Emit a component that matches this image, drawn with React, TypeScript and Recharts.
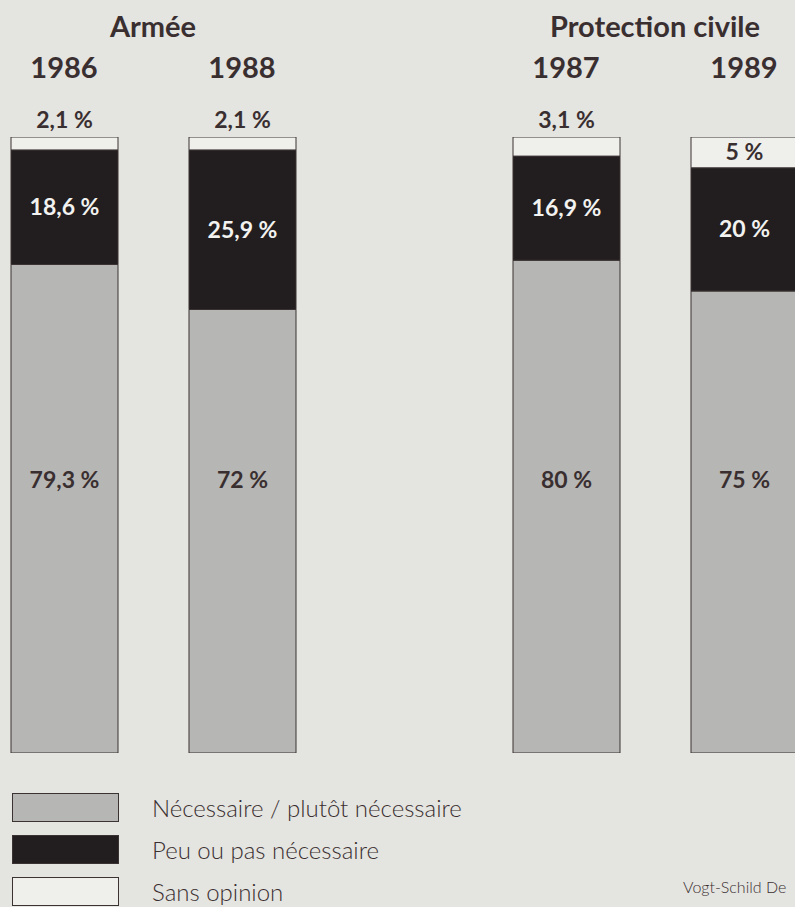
import { Bar, BarChart, LabelList, Legend, XAxis, YAxis } from "recharts";

const armyYears: string[] = ["1986", "1988"];
const civilYears: string[] = ["1987", "1989"];
// Armée 1986, 1988 then Protection civile 1987, 1989
const necessary: number[] = [79.3, 72, 80, 75];
const notNecessary: number[] = [18.6, 25.9, 16.9, 20];
const noOpinion: number[] = [2.1, 2.1, 3.1, 5];
const seriesNames: string[] = [
  "Nécessaire / plutôt nécessaire",
  "Peu ou pas nécessaire",
  "Sans opinion",
];

const BG = "#e4e4e0";
const GREY = "#b6b6b4";
const BLACK = "#221e1f";
const WHITE = "#efefec";
const INK = "#3a2f30";
const EDGE = "#3a3233";
const FONT = "Lato, 'Open Sans', sans-serif";

const buildRows = (years: string[], start: number) =>
  years.map((year, i) => ({
    year,
    necessary: necessary[start + i],
    notNecessary: notNecessary[start + i],
    noOpinion: noOpinion[start + i],
  }));

const fmt = (v: number) => `${String(v).replace(".", ",")} %`;

const YearTick = (p: any) => (
  <text x={p.x} y={78} textAnchor="middle" fontFamily={FONT} fontWeight={700} fontSize={29} fill={INK}>
    {p.payload.value}
  </text>
);

const GreyLabel = (p: any) => (
  <text x={p.x + p.width / 2} y={p.y + p.height - 265} textAnchor="middle" fontFamily={FONT} fontWeight={700} fontSize={23} fill={INK}>
    {fmt(p.value)}
  </text>
);

const BlackLabel = (p: any) => (
  <text x={p.x + p.width / 2} y={p.y + p.height / 2 + 8} textAnchor="middle" fontFamily={FONT} fontWeight={700} fontSize={23} fill="#f2f2f0">
    {fmt(p.value)}
  </text>
);

const WhiteLabel = (p: any) => {
  // small segments get their label above the bar
  const inside = p.height > 25;
  return (
    <text
      x={p.x + p.width / 2}
      y={inside ? p.y + p.height / 2 + 8 : p.y - 9}
      textAnchor="middle"
      fontFamily={FONT}
      fontWeight={700}
      fontSize={23}
      fill={INK}
    >
      {fmt(p.value)}
    </text>
  );
};

const legendFills = [GREY, BLACK, WHITE];

const renderLegend = (props: any) => {
  const items = props.payload || [];
  return (
    <svg width={520} height={120} style={{ display: "block", overflow: "visible" }}>
      {items.map((item: any, i: number) => (
        <g key={`leg-${i}`}>
          <rect x={0.5} y={i * 42 + 0.5} width={106} height={28} fill={item.color || legendFills[i]} stroke={EDGE} />
          <text x={140} y={i * 42 + 24} fontFamily={FONT} fontWeight={300} fontSize={24} fill={INK}>
            {item.value}
          </text>
        </g>
      ))}
    </svg>
  );
};

const Group = ({ years, start, title, withLegend }: { years: string[]; start: number; title: string; withLegend?: boolean }) => (
  <BarChart
    width={356}
    height={907}
    data={buildRows(years, start)}
    margin={{ top: 107, right: 0, bottom: 154, left: 0 }}
  >
    <XAxis
      dataKey="year"
      orientation="top"
      height={30}
      axisLine={false}
      tickLine={false}
      interval={0}
      tick={YearTick}
      label={{ value: title, position: "top", offset: 70, fontFamily: FONT, fontWeight: 700, fontSize: 29, fill: INK }}
    />
    <YAxis hide domain={[0, 100]} allowDataOverflow />
    <Bar dataKey="necessary" name={seriesNames[0]} stackId="s" fill={GREY} stroke={EDGE} strokeWidth={1} barSize={107} isAnimationActive={false}>
      <LabelList dataKey="necessary" content={GreyLabel} />
    </Bar>
    <Bar dataKey="notNecessary" name={seriesNames[1]} stackId="s" fill={BLACK} stroke={EDGE} strokeWidth={1} barSize={107} isAnimationActive={false}>
      <LabelList dataKey="notNecessary" content={BlackLabel} />
    </Bar>
    <Bar dataKey="noOpinion" name={seriesNames[2]} stackId="s" fill={WHITE} stroke={EDGE} strokeWidth={1} barSize={107} isAnimationActive={false}>
      <LabelList dataKey="noOpinion" content={WhiteLabel} />
    </Bar>
    {withLegend && (
      <Legend
        layout="vertical"
        align="center"
        verticalAlign="middle"
        content={renderLegend}
        wrapperStyle={{ left: 37, top: 793, width: 520, height: 120 }}
      />
    )}
  </BarChart>
);

export default function App() {
  return (
    <div style={{ position: "fixed", left: 0, top: 0, width: 795, height: 907, overflow: "hidden", background: BG }}>
      <div style={{ position: "absolute", left: -25, top: 0 }}>
        <Group years={armyYears} start={0} title="Armée" withLegend />
      </div>
      <div style={{ position: "absolute", left: 477, top: 0 }}>
        <Group years={civilYears} start={2} title="Protection civile" />
      </div>
      <div
        style={{
          position: "absolute",
          left: 683,
          top: 877,
          fontFamily: FONT,
          fontWeight: 300,
          fontSize: 16,
          lineHeight: "20px",
          color: INK,
          whiteSpace: "nowrap",
        }}
      >
        Vogt-Schild De
      </div>
    </div>
  );
}
